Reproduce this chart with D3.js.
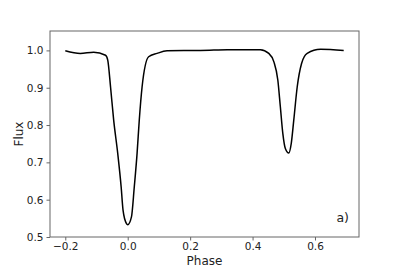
<!DOCTYPE html>
<html>
<head>
<meta charset="utf-8">
<script src="https://cdn.jsdelivr.net/npm/d3@7"></script>
<style>
  body { margin: 0; background: #fff; }
  text { font-family: "DejaVu Sans", sans-serif; }
</style>
</head>
<body>
<div class="content"></div>
<script>
// light curve
const phase = [-0.2, -0.152, -0.109, -0.071, -0.064, -0.055, -0.045, -0.032, -0.021, -0.015, -0.004, 0.0,
  0.012, 0.021, 0.030, 0.037, 0.046, 0.067, 0.094, 0.126, 0.18, 0.233, 0.319, 0.425, 0.452, 0.468, 0.481,
  0.489, 0.497, 0.505, 0.516, 0.524, 0.532, 0.543, 0.557, 0.575, 0.618, 0.692];
const flux = [0.999, 0.992, 0.995, 0.987, 0.974, 0.902, 0.813, 0.724, 0.634, 0.572, 0.536, 0.533,
  0.554, 0.634, 0.724, 0.813, 0.902, 0.983, 0.992, 0.999, 1.0, 1.0, 1.002, 1.002, 0.992, 0.970, 0.920,
  0.849, 0.777, 0.737, 0.725, 0.751, 0.813, 0.902, 0.965, 0.992, 1.003, 1.0];
const xTicks = [-0.2, 0.0, 0.2, 0.4, 0.6];
const yTicks = [0.5, 0.6, 0.7, 0.8, 0.9, 1.0];

const margin = { top: 31, right: 40, bottom: 29, left: 50 };
const W = 399, H = 266;

const svg = d3.select('.content').append('svg')
  .attr('width', W).attr('height', H);

const x = d3.scaleLinear().domain([-0.249, 0.741]).range([margin.left, W - margin.right]);
const y = d3.scaleLinear().domain([0.5, 1.052]).range([H - margin.bottom, margin.top]);

const data = phase.map((p, i) => ({ p: p, f: flux[i] }));

svg.append('path')
  .datum(data)
  .attr('fill', 'none')
  .attr('stroke', '#000')
  .attr('stroke-width', 1.5)
  .attr('d', d3.line().x(d => x(d.p)).y(d => y(d.f)).curve(d3.curveMonotoneX));

// frame
svg.append('rect')
  .attr('x', margin.left).attr('y', margin.top)
  .attr('width', W - margin.left - margin.right)
  .attr('height', H - margin.top - margin.bottom)
  .attr('fill', 'none').attr('stroke', '#666').attr('stroke-width', 1);

svg.append('g')
  .attr('transform', `translate(0, ${H - margin.bottom})`)
  .call(d3.axisBottom(x).tickValues(xTicks).tickSize(3.5).tickPadding(2).tickFormat(d3.format('.1f')))
  .call(g => g.select('.domain').remove())
  .call(g => g.selectAll('line').attr('stroke', '#666'))
  .call(g => g.selectAll('text').attr('font-size', 10.5).attr('fill', '#222')
    .text(d => d < 0 ? '\u2212' + Math.abs(d).toFixed(1) : d.toFixed(1)));

svg.append('g')
  .attr('transform', `translate(${margin.left}, 0)`)
  .call(d3.axisLeft(y).tickValues(yTicks).tickSize(3.5).tickPadding(3).tickFormat(d3.format('.1f')))
  .call(g => g.select('.domain').remove())
  .call(g => g.selectAll('line').attr('stroke', '#666'))
  .call(g => g.selectAll('text').attr('font-size', 10.5).attr('fill', '#222'));

svg.append('text')
  .attr('x', (margin.left + W - margin.right) / 2).attr('y', 264.5)
  .attr('text-anchor', 'middle').attr('font-size', 12).attr('fill', '#222')
  .text('Phase');

svg.append('text')
  .attr('transform', `translate(23, ${(margin.top + H - margin.bottom) / 2}) rotate(-90)`)
  .attr('text-anchor', 'middle').attr('font-size', 12).attr('fill', '#222')
  .text('Flux');

svg.append('text')
  .attr('x', 349).attr('y', 222)
  .attr('text-anchor', 'end').attr('font-size', 12.5).attr('fill', '#222')
  .text('a)');
</script>
</body>
</html>
